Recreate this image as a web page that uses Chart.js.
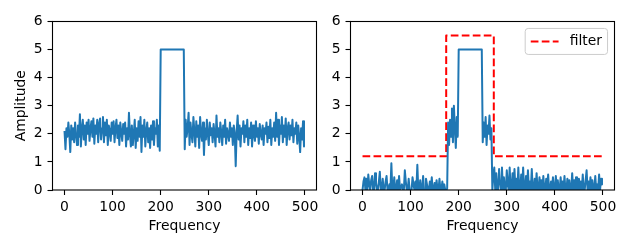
<!DOCTYPE html>
<html>
<head>
<meta charset="utf-8">
<script src="https://cdn.jsdelivr.net/npm/chart.js@4.4.0/dist/chart.umd.min.js"></script>
<style>
  body { margin: 0; background: #fff; }
  #wrap { position: relative; width: 630px; height: 248px; }
  canvas { position: absolute; top: 0; }
</style>
</head>
<body>
<div id="wrap">
  <canvas id="left" width="325" height="248" style="left:0"></canvas>
  <canvas id="right" width="305" height="248" style="left:325px"></canvas>
</div>
<script>
// sampled every 2 frequency units, 0..498
const rawAmp = [
  2.1, 1.45, 2.2, 1.9, 2.4, 2.0, 1.35, 2.3, 1.8, 2.2,
  1.7, 2.4, 2.0, 1.6, 2.3, 1.9, 2.7, 1.55, 2.2, 2.5,
  1.8, 2.3, 1.6, 2.4, 2.0, 2.5, 1.75, 2.2, 2.45, 1.9,
  2.55, 1.65, 2.3, 2.0, 2.5, 1.7, 2.35, 2.55, 1.8, 2.2,
  2.6, 1.7, 2.4, 1.95, 2.5, 1.6, 2.3, 2.1, 1.75, 2.4,
  2.0, 2.45, 1.7, 2.2, 2.5, 1.85, 2.3, 1.6, 2.4, 2.05,
  1.75, 2.35, 2.0, 2.4, 1.55, 2.2, 1.8, 2.75, 2.0, 1.55,
  2.3, 1.6, 2.0, 2.5, 1.5, 2.2, 1.75, 2.45, 1.9, 2.6,
  1.35, 2.3, 1.9, 2.5, 1.55, 2.1, 2.4, 1.7, 2.2, 1.5,
  2.3, 1.8, 2.45, 1.6, 2.2, 2.0, 2.5, 1.55, 2.3, 1.4,
  5, 5, 5, 5, 5, 5, 5, 5, 5, 5, 5, 5, 5, 5, 5, 5, 5, 5, 5, 5, 5, 5, 5, 5, 5,
  1.45, 2.5, 1.9, 2.2, 2.75, 1.6, 2.4, 2.0, 1.7, 2.6,
  2.1, 1.55, 2.45, 1.9, 2.3, 1.5, 2.6, 2.0, 1.75, 2.4,
  1.25, 2.2, 1.8, 2.5, 2.0, 1.6, 2.4, 1.95, 2.2, 1.7,
  2.35, 2.0, 1.55, 2.65, 1.9, 2.2, 1.7, 2.4, 2.05, 1.6,
  2.3, 1.9, 2.5, 1.65, 2.2, 2.0, 1.75, 2.4, 1.9, 2.2,
  1.6, 2.3, 2.0, 0.85, 2.1, 2.65, 1.8, 2.3, 1.55, 2.2,
  2.0, 2.45, 1.7, 2.3, 1.9, 2.5, 1.6, 2.2, 1.85, 2.4,
  1.55, 2.3, 2.0, 1.75, 2.45, 1.9, 2.2, 1.65, 2.35, 2.0,
  1.8, 2.3, 1.6, 2.2, 2.0, 2.4, 1.7, 2.25, 1.85, 2.5,
  1.6, 2.2, 1.9, 2.4, 1.75, 2.75, 1.9, 2.5, 1.6, 2.3,
  2.0, 2.6, 1.7, 2.3, 1.9, 2.55, 1.6, 2.2, 2.4, 1.8,
  2.3, 1.95, 2.5, 1.7, 2.2, 2.0, 2.4, 1.65, 2.3, 1.9,
  1.35, 2.2, 1.8, 2.45, 1.55
];

const filteredAmp = [
  0.0, 0.3, 0.45, 0.0, 0.4, 0.0, 0.55, 0.2, 0.0, 0.35,
  0.5, 0.0, 0.0, 0.6, 0.25, 0.0, 0.0, 0.3, 0.65, 0.0,
  0.0, 0.4, 0.0, 0.0, 0.3, 0.5, 0.0, 0.0, 0.2, 0.0,
  0.95, 0.0, 0.0, 0.45, 0.0, 0.0, 0.35, 0.0, 0.5, 0.0,
  0.0, 0.2, 0.0, 0.0, 0.7, 0.3, 0.0, 0.0, 0.4, 0.0,
  0.0, 0.0, 0.45, 0.2, 0.0, 0.3, 0.0, 0.9, 0.0, 0.0,
  0.35, 0.0, 0.0, 0.5, 0.0, 0.0, 0.4, 0.2, 0.0, 0.0,
  0.3, 0.0, 0.45, 0.0, 0.0, 0.25, 0.0, 0.35, 0.0, 0.0,
  0.4, 0.0, 0.0, 0.3, 0.0, 0.2, 0.0, 0.0, 0.05, 2.4,
  1.6, 2.5, 1.9, 2.9, 1.7, 3.0, 2.2, 1.5, 2.6, 1.9,
  5, 5, 5, 5, 5, 5, 5, 5, 5, 5, 5, 5, 5, 5, 5, 5, 5, 5, 5, 5, 5, 5, 5, 5, 5,
  1.7, 2.4, 1.9, 2.6, 1.6, 2.3, 2.0, 2.65, 1.8, 2.2,
  0.0, 0.5, 0.8, 0.0, 0.6, 0.0, 0.0, 0.75, 0.3, 0.0,
  0.8, 0.0, 0.45, 0.0, 0.0, 0.7, 0.2, 0.0, 0.8, 0.0,
  0.0, 0.6, 0.0, 0.75, 0.0, 0.4, 0.0, 0.8, 0.0, 0.0,
  0.55, 0.0, 0.8, 0.0, 0.0, 0.5, 0.0, 0.7, 0.0, 0.3,
  0.0, 0.75, 0.0, 0.0, 0.4, 0.0, 0.6, 0.0, 0.0, 0.45,
  0.0, 0.35, 0.0, 0.5, 0.0, 0.0, 0.4, 0.0, 0.55, 0.0,
  0.0, 0.3, 0.0, 0.45, 0.0, 0.0, 0.5, 0.0, 0.35, 0.0,
  0.0, 0.45, 0.0, 0.3, 0.0, 0.5, 0.0, 0.0, 0.4, 0.0,
  0.35, 0.0, 0.0, 0.6, 0.0, 0.35, 0.0, 0.45, 0.0, 0.0,
  0.4, 0.0, 0.3, 0.0, 0.55, 0.0, 0.0, 0.35, 0.7, 0.0,
  0.3, 0.0, 0.45, 0.0, 0.35, 0.0, 0.0, 0.5, 0.0, 0.2,
  0.0, 0.55, 0.0, 0.4, 0.2
];

// dashed filter outline
const filterFreq = [0, 174, 174, 273, 273, 499];
const filterAmp = [1.2, 1.2, 5.5, 5.5, 1.2, 1.2];

const xTicks = [0, 100, 200, 300, 400, 500];
const yTicks = [0, 1, 2, 3, 4, 5, 6];

const FONT = "'DejaVu Sans', sans-serif";
const BLUE = "#1f77b4";

function toPoints(ys) {
  return ys.map((y, i) => ({ x: i * 2, y: y }));
}

// matplotlib-like spines all round
const frame = {
  id: "frame",
  afterDraw(chart) {
    const { ctx, chartArea: a } = chart;
    ctx.save();
    ctx.strokeStyle = "#000";
    ctx.lineWidth = 1.1;
    ctx.strokeRect(a.left, a.top, a.right - a.left, a.bottom - a.top);
    ctx.restore();
  }
};

// legend box inside the axes, upper right
const boxLegend = {
  id: "boxLegend",
  afterDraw(chart) {
    const ds = chart.data.datasets.find(d => d.label);
    if (!ds) return;
    const { ctx, chartArea: a } = chart;
    const fs = 13.9;
    ctx.save();
    ctx.font = fs + "px " + FONT;
    const tw = ctx.measureText(ds.label).width;
    const pad = 0.4 * fs, hl = 2 * fs, gap = 0.8 * fs;
    const w = pad + hl + gap + tw + pad;
    const h = 26;
    const x = a.right - 0.5 * fs - w;
    const y = a.top + 0.5 * fs;
    ctx.beginPath();
    ctx.roundRect(x, y, w, h, 3);
    ctx.fillStyle = "rgba(255,255,255,0.8)";
    ctx.fill();
    ctx.strokeStyle = "#cccccc";
    ctx.lineWidth = 1;
    ctx.stroke();
    const cy = y + h / 2;
    ctx.beginPath();
    ctx.setLineDash(ds.borderDash);
    ctx.strokeStyle = ds.borderColor;
    ctx.lineWidth = ds.borderWidth;
    ctx.moveTo(x + pad, cy);
    ctx.lineTo(x + pad + hl, cy);
    ctx.stroke();
    ctx.setLineDash([]);
    ctx.fillStyle = "#000";
    ctx.textBaseline = "middle";
    ctx.fillText(ds.label, x + pad + hl + gap, cy);
    ctx.restore();
  }
};

function xScale() {
  return {
    type: "linear",
    min: -25,
    max: 524,
    afterBuildTicks: s => { s.ticks = xTicks.map(v => ({ value: v })); },
    afterFit: s => { s.height = 58; },
    grid: { drawOnChartArea: false, tickLength: 5, tickWidth: 1.1, tickColor: "#000" },
    border: { display: false },
    ticks: { color: "#000", font: { family: FONT, size: 13.9 }, padding: 4, maxRotation: 0, autoSkip: false },
    title: { display: true, text: "Frequency", color: "#000", font: { family: FONT, size: 13.9 }, padding: { top: 0, bottom: 13 } }
  };
}

function yScale(width, title) {
  return {
    min: 0,
    max: 6,
    afterBuildTicks: s => { s.ticks = yTicks.map(v => ({ value: v })); },
    afterFit: s => { s.width = width; },
    grid: { drawOnChartArea: false, tickLength: 5, tickWidth: 1.1, tickColor: "#000" },
    border: { display: false },
    ticks: { color: "#000", font: { family: FONT, size: 13.9 }, padding: 5 },
    title: { display: !!title, text: title || "", color: "#000", font: { family: FONT, size: 13.9 }, padding: { top: 13, bottom: 0 } }
  };
}

function baseOptions(yWidth, yTitle, padRight) {
  return {
    responsive: false,
    animation: false,
    devicePixelRatio: 1,
    layout: { padding: { left: 0, top: 21.5, right: padRight, bottom: 0 } },
    plugins: { legend: { display: false }, tooltip: { enabled: false } },
    elements: { point: { radius: 0 }, line: { tension: 0, borderJoinStyle: "round" } },
    scales: { x: xScale(), y: yScale(yWidth, yTitle) }
  };
}

new Chart(document.getElementById("left"), {
  type: "line",
  data: {
    datasets: [{
      data: toPoints(rawAmp),
      borderColor: BLUE,
      borderWidth: 2,
    }]
  },
  options: baseOptions(52.5, "Amplitude", 8.5),
  plugins: [frame]
});

new Chart(document.getElementById("right"), {
  type: "line",
  data: {
    datasets: [
      {
        data: toPoints(filteredAmp),
        borderColor: BLUE,
        borderWidth: 2,
      },
      {
        label: "filter",
        data: filterFreq.map((f, i) => ({ x: f, y: filterAmp[i] })),
        borderColor: "#ff0000",
        borderWidth: 2,
        borderDash: [7.7, 3.3],
      }
    ]
  },
  options: baseOptions(25.5, null, 15.5),
  plugins: [frame, boxLegend]
});
</script>
</body>
</html>
